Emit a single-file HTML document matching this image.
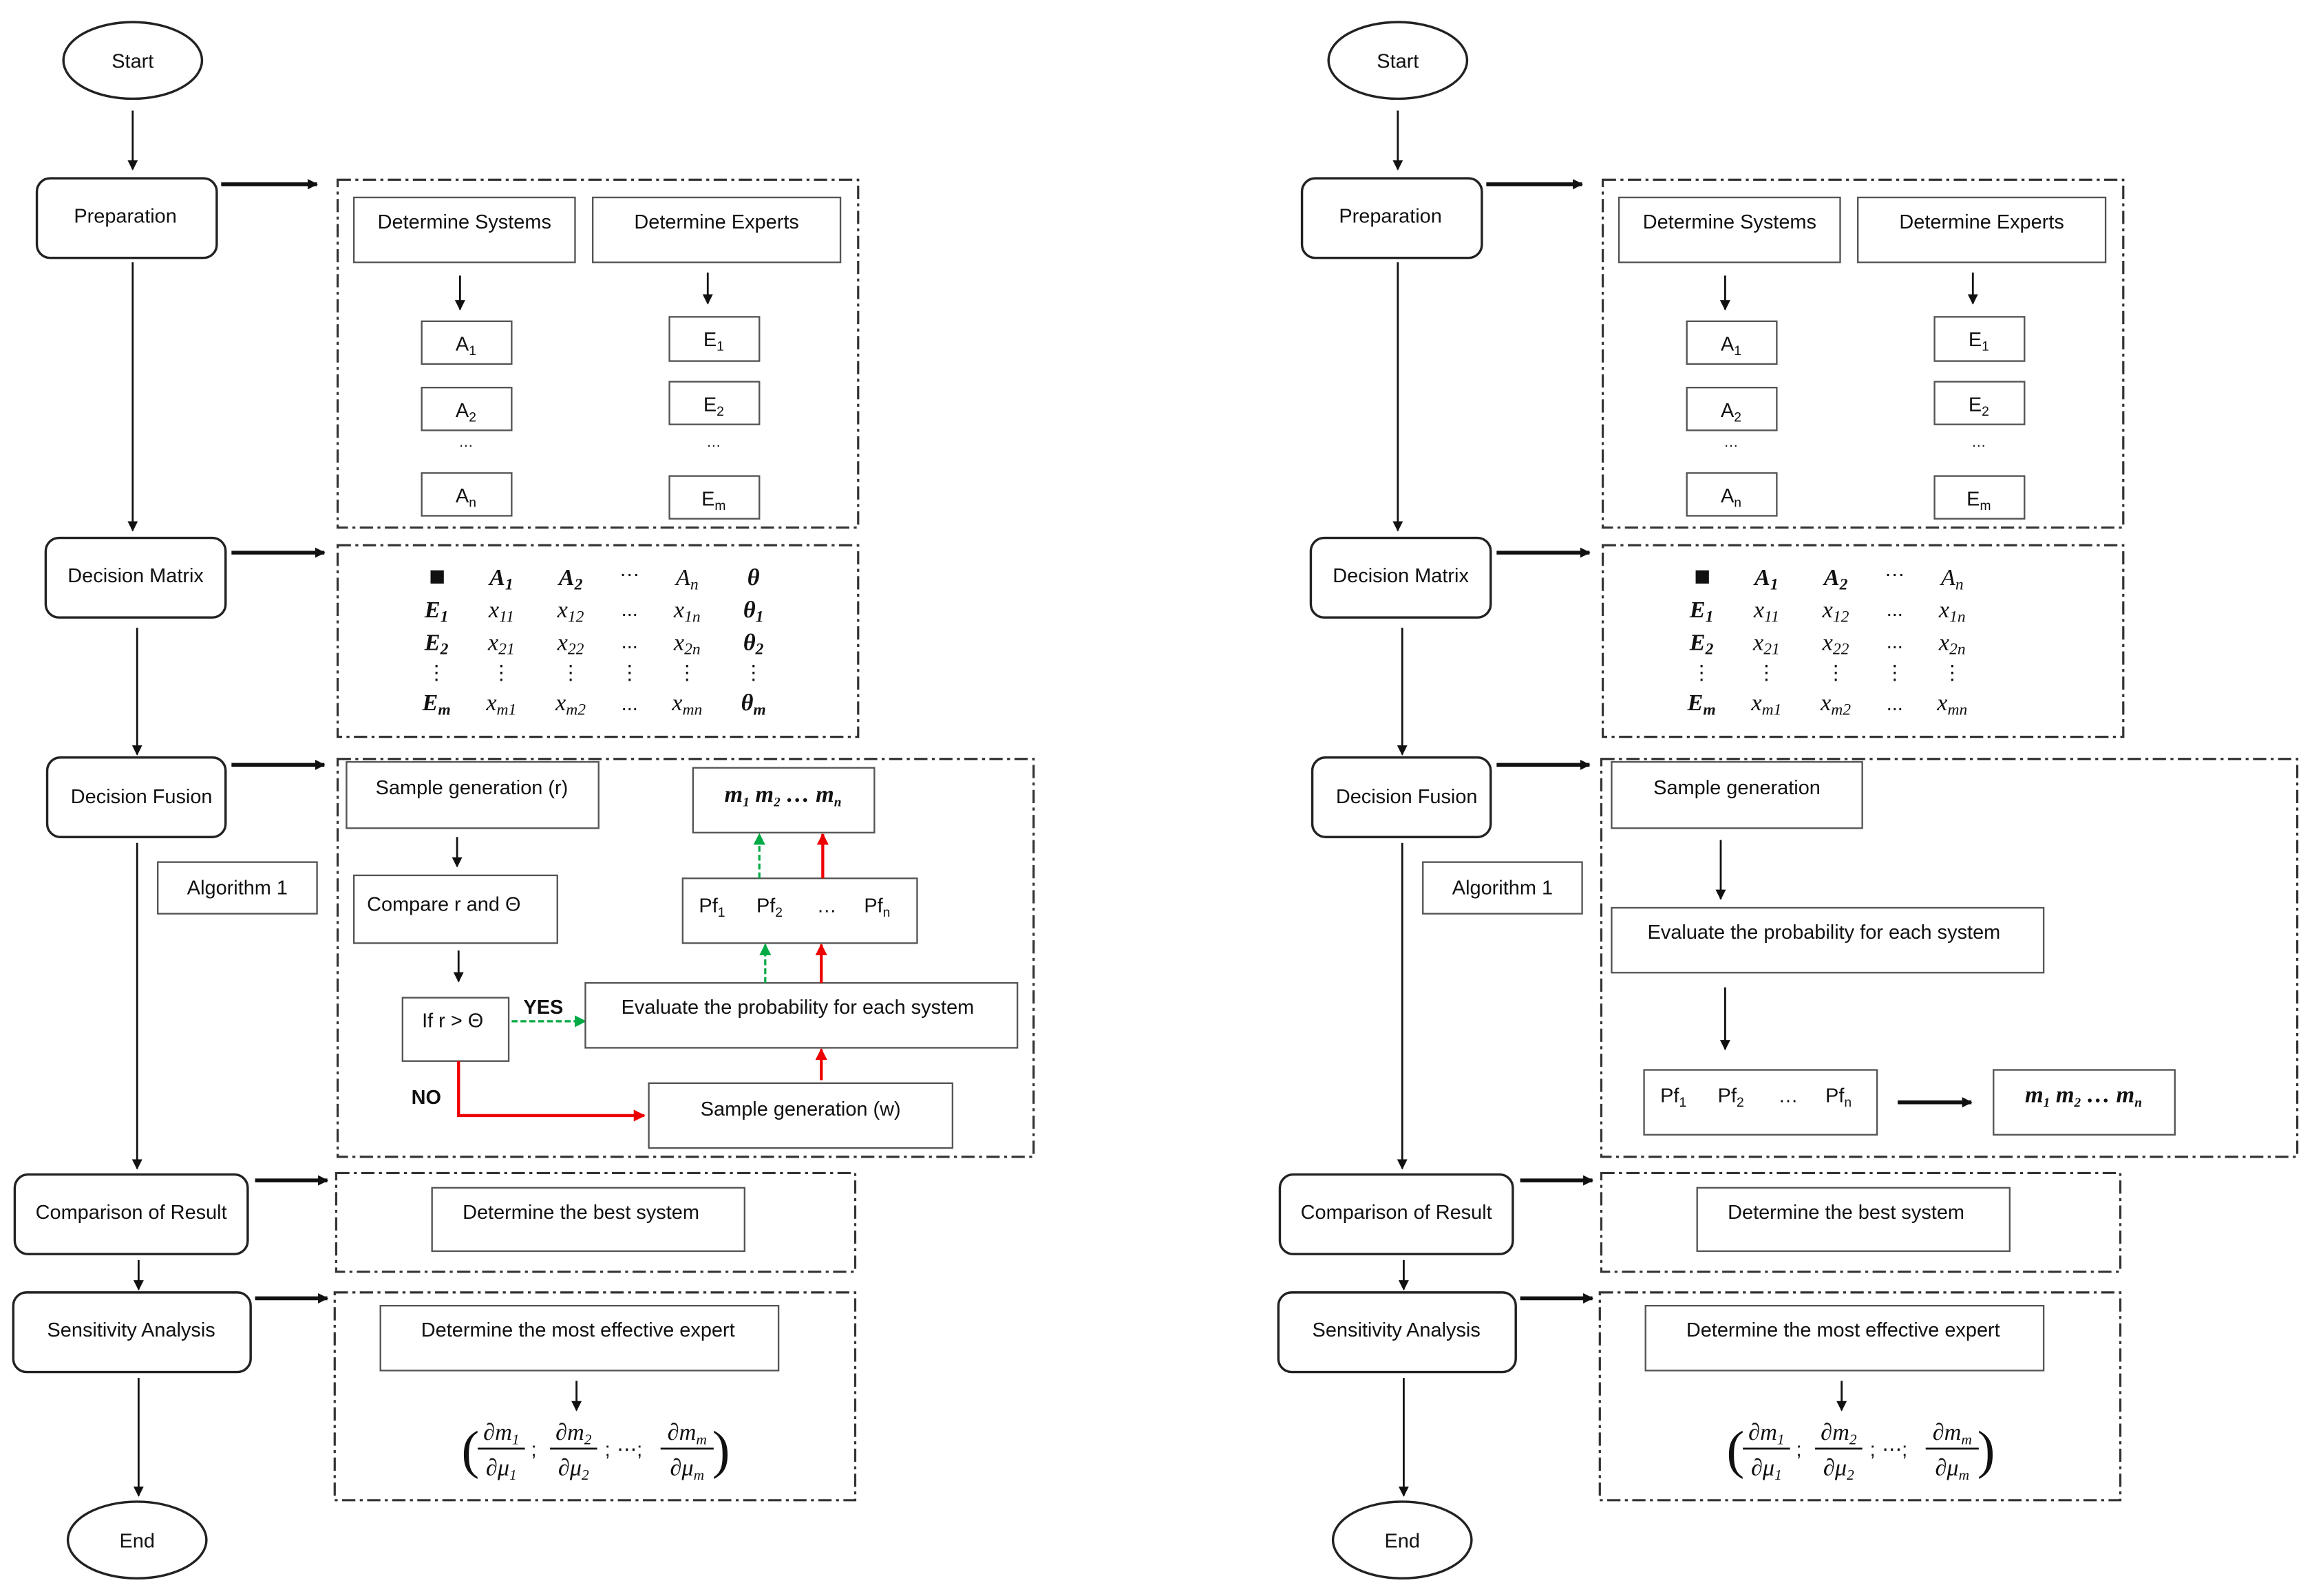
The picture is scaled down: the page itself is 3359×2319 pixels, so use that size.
<!DOCTYPE html>
<html><head><meta charset="utf-8"><style>
html,body{margin:0;padding:0;background:#fff;}
svg{display:block;}
text{font-family:"Liberation Sans",sans-serif;font-size:13.5px;fill:#111;}
.m{font-family:"Liberation Serif",serif;font-style:italic;font-size:16px;}
.mb{font-family:"Liberation Serif",serif;font-style:italic;font-weight:bold;font-size:16px;}
.b{fill:#fff;stroke:#555;stroke-width:1.1;}
.r{fill:#fff;stroke:#222;stroke-width:1.6;}
.d{fill:none;stroke:#333;stroke-width:1.5;stroke-dasharray:9 3 2 3;}
.l{stroke:#111;stroke-width:1.3;fill:none;}
.t{stroke:#111;stroke-width:2.6;fill:none;}
</style></head><body>
<svg width="3359" height="2319" viewBox="0 0 1568 1083" preserveAspectRatio="none" xmlns="http://www.w3.org/2000/svg">
<defs>
<marker id="a" viewBox="0 0 10 10" refX="9" refY="5" markerWidth="7" markerHeight="7" markerUnits="userSpaceOnUse" orient="auto"><path d="M0,0L10,5L0,10z" fill="#111"/></marker>
<marker id="ar" viewBox="0 0 10 10" refX="9" refY="5" markerWidth="8" markerHeight="8" markerUnits="userSpaceOnUse" orient="auto"><path d="M0,0L10,5L0,10z" fill="#e00"/></marker>
<marker id="ag" viewBox="0 0 10 10" refX="9" refY="5" markerWidth="8" markerHeight="8" markerUnits="userSpaceOnUse" orient="auto"><path d="M0,0L10,5L0,10z" fill="#0a4"/></marker>
</defs>

<g id="L">
<ellipse cx="90" cy="41" rx="47" ry="26" class="r"/><text x="90" y="46" text-anchor="middle">Start</text>
<line x1="90" y1="75" x2="90" y2="115" class="l" marker-end="url(#a)"/>
<rect x="25" y="121" width="122" height="54" rx="9" class="r"/><text x="85" y="151" text-anchor="middle">Preparation</text>
<line x1="150" y1="125" x2="215" y2="125" class="t" marker-end="url(#a)"/>
<line x1="90" y1="178" x2="90" y2="360" class="l" marker-end="url(#a)"/>
<rect x="31" y="365" width="122" height="54" rx="9" class="r"/><text x="92" y="395" text-anchor="middle">Decision Matrix</text>
<line x1="157" y1="375" x2="220" y2="375" class="t" marker-end="url(#a)"/>
<line x1="93" y1="426" x2="93" y2="512" class="l" marker-end="url(#a)"/>
<rect x="32" y="514" width="121" height="54" rx="9" class="r"/><text x="96" y="545" text-anchor="middle">Decision Fusion</text>
<line x1="157" y1="519" x2="220" y2="519" class="t" marker-end="url(#a)"/>
<rect x="107" y="585" width="108" height="35" class="b"/><text x="161" y="607" text-anchor="middle">Algorithm 1</text>
<line x1="93" y1="572" x2="93" y2="793" class="l" marker-end="url(#a)"/>
<rect x="10" y="797" width="158" height="54" rx="9" class="r"/><text x="89" y="827" text-anchor="middle">Comparison of Result</text>
<line x1="173" y1="801" x2="222" y2="801" class="t" marker-end="url(#a)"/>
<line x1="94" y1="855" x2="94" y2="875" class="l" marker-end="url(#a)"/>
<rect x="9" y="877" width="161" height="54" rx="9" class="r"/><text x="89" y="907" text-anchor="middle">Sensitivity Analysis</text>
<line x1="173" y1="881" x2="222" y2="881" class="t" marker-end="url(#a)"/>
<line x1="94" y1="935" x2="94" y2="1015" class="l" marker-end="url(#a)"/>
<ellipse cx="93" cy="1045" rx="47" ry="26" class="r"/><text x="93" y="1050" text-anchor="middle">End</text>

<rect x="229" y="122" width="353" height="236" class="d"/>
<rect x="240" y="134" width="150" height="44" class="b"/><text x="315" y="155" text-anchor="middle">Determine Systems</text>
<rect x="402" y="134" width="168" height="44" class="b"/><text x="486" y="155" text-anchor="middle">Determine Experts</text>
<line x1="312" y1="187" x2="312" y2="210" class="l" marker-end="url(#a)"/>
<line x1="480" y1="185" x2="480" y2="206" class="l" marker-end="url(#a)"/>
<rect x="286" y="218" width="61" height="29" class="b"/><text x="316" y="238" text-anchor="middle">A<tspan font-size="9" dy="3">1</tspan></text>
<rect x="286" y="263" width="61" height="29" class="b"/><text x="316" y="283" text-anchor="middle">A<tspan font-size="9" dy="3">2</tspan></text>
<text x="316" y="303" text-anchor="middle" style="font-size:10px">…</text>
<rect x="286" y="321" width="61" height="29" class="b"/><text x="316" y="341" text-anchor="middle">A<tspan font-size="9" dy="3">n</tspan></text>
<rect x="454" y="215" width="61" height="30" class="b"/><text x="484" y="235" text-anchor="middle">E<tspan font-size="9" dy="3">1</tspan></text>
<rect x="454" y="259" width="61" height="29" class="b"/><text x="484" y="279" text-anchor="middle">E<tspan font-size="9" dy="3">2</tspan></text>
<text x="484" y="303" text-anchor="middle" style="font-size:10px">…</text>
<rect x="454" y="323" width="61" height="29" class="b"/><text x="484" y="343" text-anchor="middle">E<tspan font-size="9" dy="3">m</tspan></text>

<rect x="229" y="370" width="353" height="130" class="d"/>
<g text-anchor="middle">
<rect x="292" y="387" width="9" height="9" fill="#111"/>
<text class="mb" x="340" y="397">A<tspan font-size="11" dy="3">1</tspan></text>
<text class="mb" x="387" y="397">A<tspan font-size="11" dy="3">2</tspan></text>
<text x="427" y="394">···</text>
<text class="m" x="466" y="397">A<tspan font-size="11" dy="3">n</tspan></text>
<text class="mb" x="296" y="419">E<tspan font-size="11" dy="3">1</tspan></text>
<text class="m" x="340" y="419">x<tspan font-size="11" dy="3">11</tspan></text>
<text class="m" x="387" y="419">x<tspan font-size="11" dy="3">12</tspan></text>
<text x="427" y="418">...</text>
<text class="m" x="466" y="419">x<tspan font-size="11" dy="3">1n</tspan></text>
<text class="mb" x="296" y="441">E<tspan font-size="11" dy="3">2</tspan></text>
<text class="m" x="340" y="441">x<tspan font-size="11" dy="3">21</tspan></text>
<text class="m" x="387" y="441">x<tspan font-size="11" dy="3">22</tspan></text>
<text x="427" y="440">...</text>
<text class="m" x="466" y="441">x<tspan font-size="11" dy="3">2n</tspan></text>
<text x="296" y="461">⋮</text><text x="340" y="461">⋮</text><text x="387" y="461">⋮</text><text x="427" y="461">⋮</text><text x="466" y="461">⋮</text>
<text class="mb" x="296" y="482">E<tspan font-size="11" dy="3">m</tspan></text>
<text class="m" x="340" y="482">x<tspan font-size="11" dy="3">m1</tspan></text>
<text class="m" x="387" y="482">x<tspan font-size="11" dy="3">m2</tspan></text>
<text x="427" y="482">...</text>
<text class="m" x="466" y="482">x<tspan font-size="11" dy="3">mn</tspan></text>
</g>

<rect x="228" y="796" width="352" height="67" class="d"/>
<rect x="293" y="806" width="212" height="43" class="b"/><text x="394" y="827" text-anchor="middle">Determine the best system</text>
<rect x="227" y="877" width="353" height="141" class="d"/>
<rect x="258" y="886" width="270" height="44" class="b"/><text x="392" y="907" text-anchor="middle">Determine the most effective expert</text>
<line x1="391" y1="937" x2="391" y2="957" class="l" marker-end="url(#a)"/>
<g text-anchor="middle">
<text x="319" y="996" style="font-size:36px;font-family:'Liberation Serif',serif">(</text>
<text class="m" x="340" y="977">∂m<tspan font-size="10" dy="3">1</tspan></text><line x1="324" y1="983" x2="356" y2="983" class="l" stroke-width="1"/><text class="m" x="340" y="1001">∂μ<tspan font-size="10" dy="3">1</tspan></text>
<text x="362" y="988">;</text>
<text class="m" x="389" y="977">∂m<tspan font-size="10" dy="3">2</tspan></text><line x1="373" y1="983" x2="405" y2="983" class="l" stroke-width="1"/><text class="m" x="389" y="1001">∂μ<tspan font-size="10" dy="3">2</tspan></text>
<text x="412" y="988">;</text>
<text x="427" y="988">⋯;</text>
<text class="m" x="466" y="977">∂m<tspan font-size="10" dy="3">m</tspan></text><line x1="448" y1="983" x2="484" y2="983" class="l" stroke-width="1"/><text class="m" x="466" y="1001">∂μ<tspan font-size="10" dy="3">m</tspan></text>
<text x="489" y="996" style="font-size:36px;font-family:'Liberation Serif',serif">)</text>
</g>
</g>

<g text-anchor="middle">
<text class="mb" x="511" y="397">θ</text>
<text class="mb" x="511" y="419">θ<tspan font-size="11" dy="3">1</tspan></text>
<text class="mb" x="511" y="441">θ<tspan font-size="11" dy="3">2</tspan></text>
<text x="511" y="461">⋮</text>
<text class="mb" x="511" y="482">θ<tspan font-size="11" dy="3">m</tspan></text>
</g>
<rect x="229" y="515" width="472" height="270" class="d"/>
<rect x="235" y="517" width="171" height="45" class="b"/><text x="320" y="539" text-anchor="middle">Sample generation (r)</text>
<line x1="310" y1="568" x2="310" y2="588" class="l" marker-end="url(#a)"/>
<rect x="240" y="594" width="138" height="46" class="b"/><text x="301" y="618" text-anchor="middle">Compare r and Θ</text>
<line x1="311" y1="645" x2="311" y2="666" class="l" marker-end="url(#a)"/>
<rect x="273" y="677" width="72" height="43" class="b"/><text x="307" y="697" text-anchor="middle">If r &gt; Θ</text>
<text x="355" y="688" font-weight="bold">YES</text>
<line x1="347" y1="693" x2="397" y2="693" stroke="#0a4" stroke-width="1.5" stroke-dasharray="4 2" marker-end="url(#ag)"/>
<rect x="397" y="667" width="293" height="44" class="b"/><text x="541" y="688" text-anchor="middle">Evaluate the probability for each system</text>
<rect x="470" y="521" width="123" height="44" class="b"/>
<text x="531" y="544" text-anchor="middle" class="mb">m<tspan font-size="9" dy="3">1</tspan><tspan dy="-3">  m</tspan><tspan font-size="9" dy="3">2</tspan><tspan dy="-3">  …  m</tspan><tspan font-size="9" dy="3">n</tspan></text>
<rect x="463" y="596" width="159" height="44" class="b"/>
<text x="474" y="619">Pf<tspan font-size="9" dy="3">1</tspan></text><text x="513" y="619">Pf<tspan font-size="9" dy="3">2</tspan></text><text x="554" y="619">…</text><text x="586" y="619">Pf<tspan font-size="9" dy="3">n</tspan></text>
<line x1="515" y1="596" x2="515" y2="566" stroke="#0a4" stroke-width="1.5" stroke-dasharray="4 2" marker-end="url(#ag)"/>
<line x1="519" y1="667" x2="519" y2="641" stroke="#0a4" stroke-width="1.5" stroke-dasharray="4 2" marker-end="url(#ag)"/>
<line x1="558" y1="596" x2="558" y2="566" stroke="#e00" stroke-width="2" marker-end="url(#ar)"/>
<line x1="557" y1="667" x2="557" y2="641" stroke="#e00" stroke-width="2" marker-end="url(#ar)"/>
<line x1="557" y1="733" x2="557" y2="712" stroke="#e00" stroke-width="2" marker-end="url(#ar)"/>
<rect x="440" y="735" width="206" height="44" class="b"/><text x="543" y="757" text-anchor="middle">Sample generation (w)</text>
<text x="279" y="749" font-weight="bold">NO</text>
<polyline points="311,720 311,757 437,757" fill="none" stroke="#e00" stroke-width="2" marker-end="url(#ar)"/>

<use href="#L" transform="translate(858,0)"/>
<rect x="1086" y="515" width="472" height="270" class="d"/>
<rect x="1093" y="517" width="170" height="45" class="b"/><text x="1178" y="539" text-anchor="middle">Sample generation</text>
<line x1="1167" y1="570" x2="1167" y2="610" class="l" marker-end="url(#a)"/>
<rect x="1093" y="616" width="293" height="44" class="b"/><text x="1237" y="637" text-anchor="middle">Evaluate the probability for each system</text>
<line x1="1170" y1="670" x2="1170" y2="712" class="l" marker-end="url(#a)"/>
<rect x="1115" y="726" width="158" height="44" class="b"/>
<text x="1126" y="748">Pf<tspan font-size="9" dy="3">1</tspan></text><text x="1165" y="748">Pf<tspan font-size="9" dy="3">2</tspan></text><text x="1206" y="748">…</text><text x="1238" y="748">Pf<tspan font-size="9" dy="3">n</tspan></text>
<line x1="1287" y1="748" x2="1337" y2="748" class="t" marker-end="url(#a)"/>
<rect x="1352" y="726" width="123" height="44" class="b"/>
<text x="1413" y="748" text-anchor="middle" class="mb">m<tspan font-size="9" dy="3">1</tspan><tspan dy="-3">  m</tspan><tspan font-size="9" dy="3">2</tspan><tspan dy="-3">  …  m</tspan><tspan font-size="9" dy="3">n</tspan></text>
</svg>
</body></html>
